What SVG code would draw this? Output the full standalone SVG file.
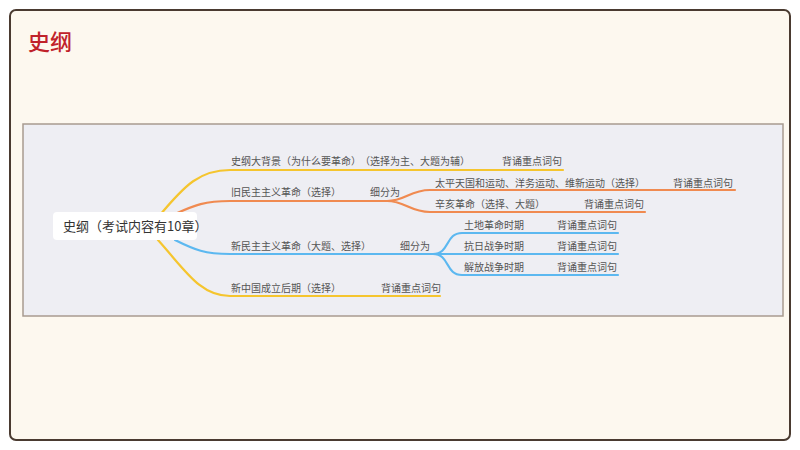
<svg xmlns="http://www.w3.org/2000/svg" width="800" height="450" viewBox="0 0 800 450">
<style>
text{font-family:"Noto Sans CJK SC","Noto Sans",sans-serif;font-size:10px;fill:#555}
.y{stroke:#f5c52e}.o{stroke:#f08a50}.b{stroke:#5cb8f0}
path{fill:none;stroke-width:2.2;stroke-linecap:round}
</style>
<rect x="10" y="10" width="780" height="430" rx="6" fill="#fdf8ef" stroke="#4a3a30" stroke-width="2"/>
<text x="28" y="50" style="font-size:22px;fill:#c0222a;font-weight:500">史纲</text>
<rect x="23" y="124" width="760" height="192" fill="#eeeef3" stroke="#a89a90" stroke-width="1.5"/>
<g id="connectors">
<path class="y" d="M160 215 C185 185 200 170 230 170 H563"/>
<path class="o" d="M175 214 C195 205 205 201 230 201 H387 C405 201 410 190 430 190 H735 M387 201 C405 201 410 212 430 212 H645"/>
<path class="b" d="M175 240 C195 250 205 254 230 254 H433 C450 254 445 233 462 233 H618 M433 254 H618 M433 254 C450 254 445 275 462 275 H618"/>
<path class="y" d="M158 240 C185 270 200 296 230 296 H440"/>
</g>
<g id="root"><rect x="53" y="212" width="144" height="28" rx="4" fill="#fff"/><text x="63" y="231" style="font-size:13px;fill:#333">史纲（考试内容有10章）</text></g>
<g id="n1"><text x="231" y="165">史纲大背景（为什么要革命）</text><text x="360" y="165">（选择为主、大题为辅）</text><text x="502" y="165">背诵重点词句</text></g>
<g id="n2"><text x="231" y="196">旧民主主义革命（选择）</text><text x="370" y="196">细分为</text>
<text x="435" y="187">太平天国和运动、洋务运动、维新运动（选择）</text><text x="673" y="187">背诵重点词句</text>
<text x="435" y="208">辛亥革命（选择、大题）</text><text x="584" y="208">背诵重点词句</text></g>
<g id="n3"><text x="231" y="250">新民主主义革命（大题、选择）</text><text x="400" y="250">细分为</text>
<text x="464" y="229">土地革命时期</text><text x="557" y="229">背诵重点词句</text>
<text x="464" y="250">抗日战争时期</text><text x="557" y="250">背诵重点词句</text>
<text x="464" y="271">解放战争时期</text><text x="557" y="271">背诵重点词句</text></g>
<g id="n4"><text x="231" y="292">新中国成立后期（选择）</text><text x="381" y="292">背诵重点词句</text></g>
</svg>
